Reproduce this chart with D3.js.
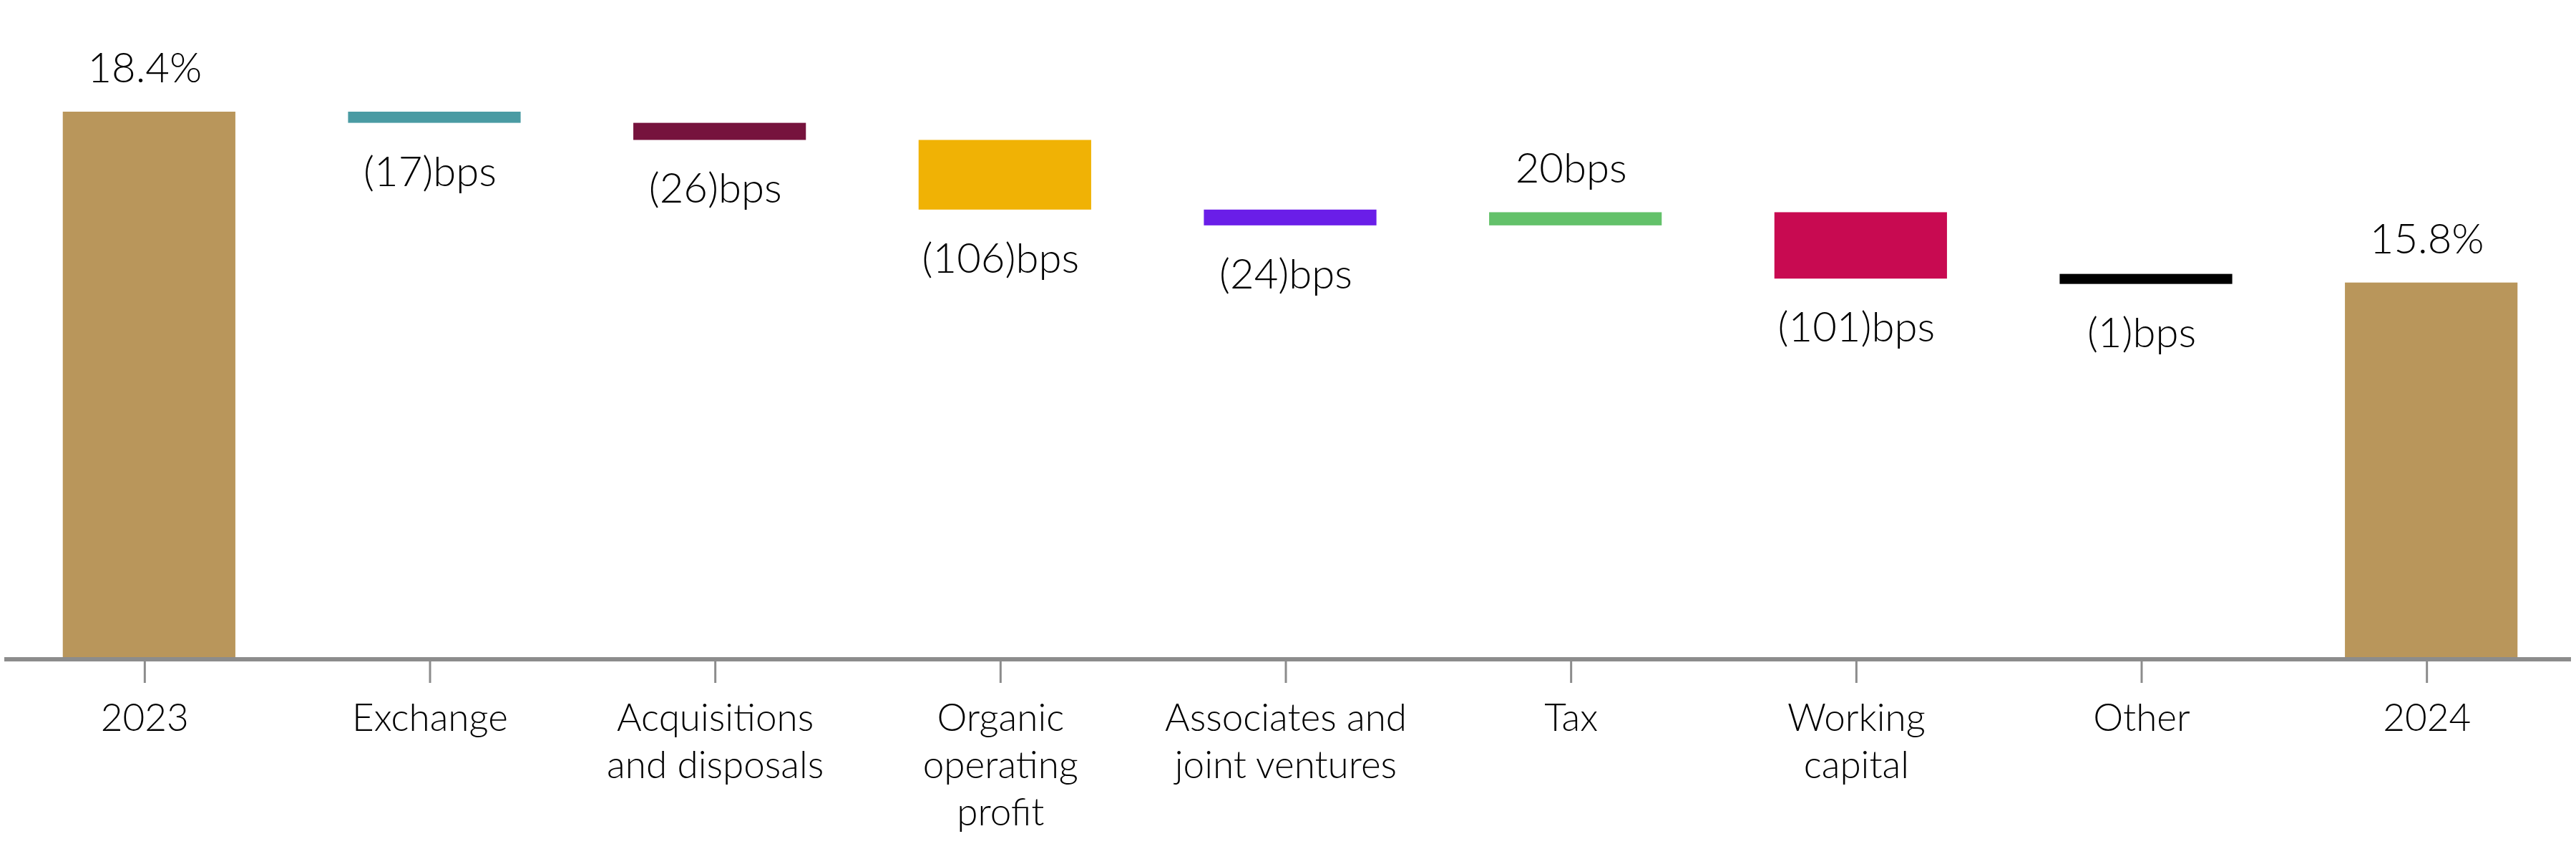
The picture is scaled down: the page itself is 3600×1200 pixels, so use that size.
<!DOCTYPE html>
<html>
<head>
<meta charset="utf-8">
<script src="https://cdn.jsdelivr.net/npm/d3@7"></script>
<style>
  html, body { margin: 0; padding: 0; background: #ffffff; }
  svg { display: block; }
  text { font-family: Lato, "Open Sans", sans-serif; font-weight: 300; fill: #000; }
</style>
</head>
<body>
<svg id="chart" width="3600" height="1200"></svg>
<script>
// ---- data ----
const categories = ["2023", "Exchange", "Acquisitions and disposals", "Organic operating profit",
  "Associates and joint ventures", "Tax", "Working capital", "Other", "2024"];
const tickLabels = [["2023"], ["Exchange"], ["Acquisitions", "and disposals"], ["Organic", "operating", "profit"],
  ["Associates and", "joint ventures"], ["Tax"], ["Working", "capital"], ["Other"], ["2024"]];
const startValue = 18.4;          // % (2023)
const endValue = 15.8;            // % (2024)
const deltaBps = [-17, -26, -106, -24, 20, -101, -1];   // basis points
const valueLabels = ["18.4%", "(17)bps", "(26)bps", "(106)bps", "(24)bps", "20bps", "(101)bps", "(1)bps", "15.8%"];
const colors = ["#B9965B", "#4A9BA3", "#76133D", "#F0B205", "#6A1EE8", "#63C16A", "#C80A51", "#000000", "#B9965B"];

// ---- build waterfall segments ----
const yMin = 10.1;
const segs = [];
segs.push({ cat: categories[0], from: yMin, to: startValue, total: true });
let run = startValue;
deltaBps.forEach((d, i) => {
  const next = run + d / 100;
  segs.push({ cat: categories[i + 1], from: run, to: next, total: false, delta: d });
  run = next;
});
segs.push({ cat: categories[8], from: yMin, to: endValue, total: true });

// ---- scales ----
const svg = d3.select("#chart");
const axisY = 921;
const x = d3.scaleBand().domain(categories).range([3, 3591]).paddingInner(0.395).paddingOuter(0.1975);
const y = d3.scaleLinear().domain([yMin, startValue]).range([918, 156]);
const barShift = 6;
const minH = 14;

// bars
segs.forEach((s, i) => {
  let top = y(Math.max(s.from, s.to));
  let bot = y(Math.min(s.from, s.to));
  if (bot - top < minH) {
    const mid = (top + bot) / 2;
    top = mid - minH / 2; bot = mid + minH / 2;
  }
  s.top = top; s.bot = bot;
  svg.append("rect")
    .attr("x", x(s.cat) + barShift)
    .attr("y", top)
    .attr("width", x.bandwidth())
    .attr("height", bot - top)
    .attr("fill", colors[i]);
});

// value labels
segs.forEach((s, i) => {
  const cx = x(s.cat) + x.bandwidth() / 2;
  const above = s.total || s.delta > 0;
  svg.append("text")
    .attr("x", cx)
    .attr("y", above ? s.top - 41 : s.bot + 88)
    .attr("text-anchor", "middle")
    .style("font-size", "58px")
    .text(valueLabels[i]);
});

// axis
svg.append("line")
  .attr("x1", 6).attr("x2", 3593)
  .attr("y1", axisY).attr("y2", axisY)
  .attr("stroke", "#8c8c8c").attr("stroke-width", 6);

categories.forEach((c, i) => {
  const cx = x(c) + x.bandwidth() / 2;
  svg.append("line")
    .attr("x1", cx).attr("x2", cx)
    .attr("y1", axisY).attr("y2", 954)
    .attr("stroke", "#8c8c8c").attr("stroke-width", 3);
  const t = svg.append("text")
    .attr("x", cx).attr("y", 1021)
    .attr("text-anchor", "middle")
    .style("font-size", "53px");
  tickLabels[i].forEach((ln, j) => {
    t.append("tspan").attr("x", cx).attr("dy", j === 0 ? 0 : 66).text(ln);
  });
});
</script>
</body>
</html>
